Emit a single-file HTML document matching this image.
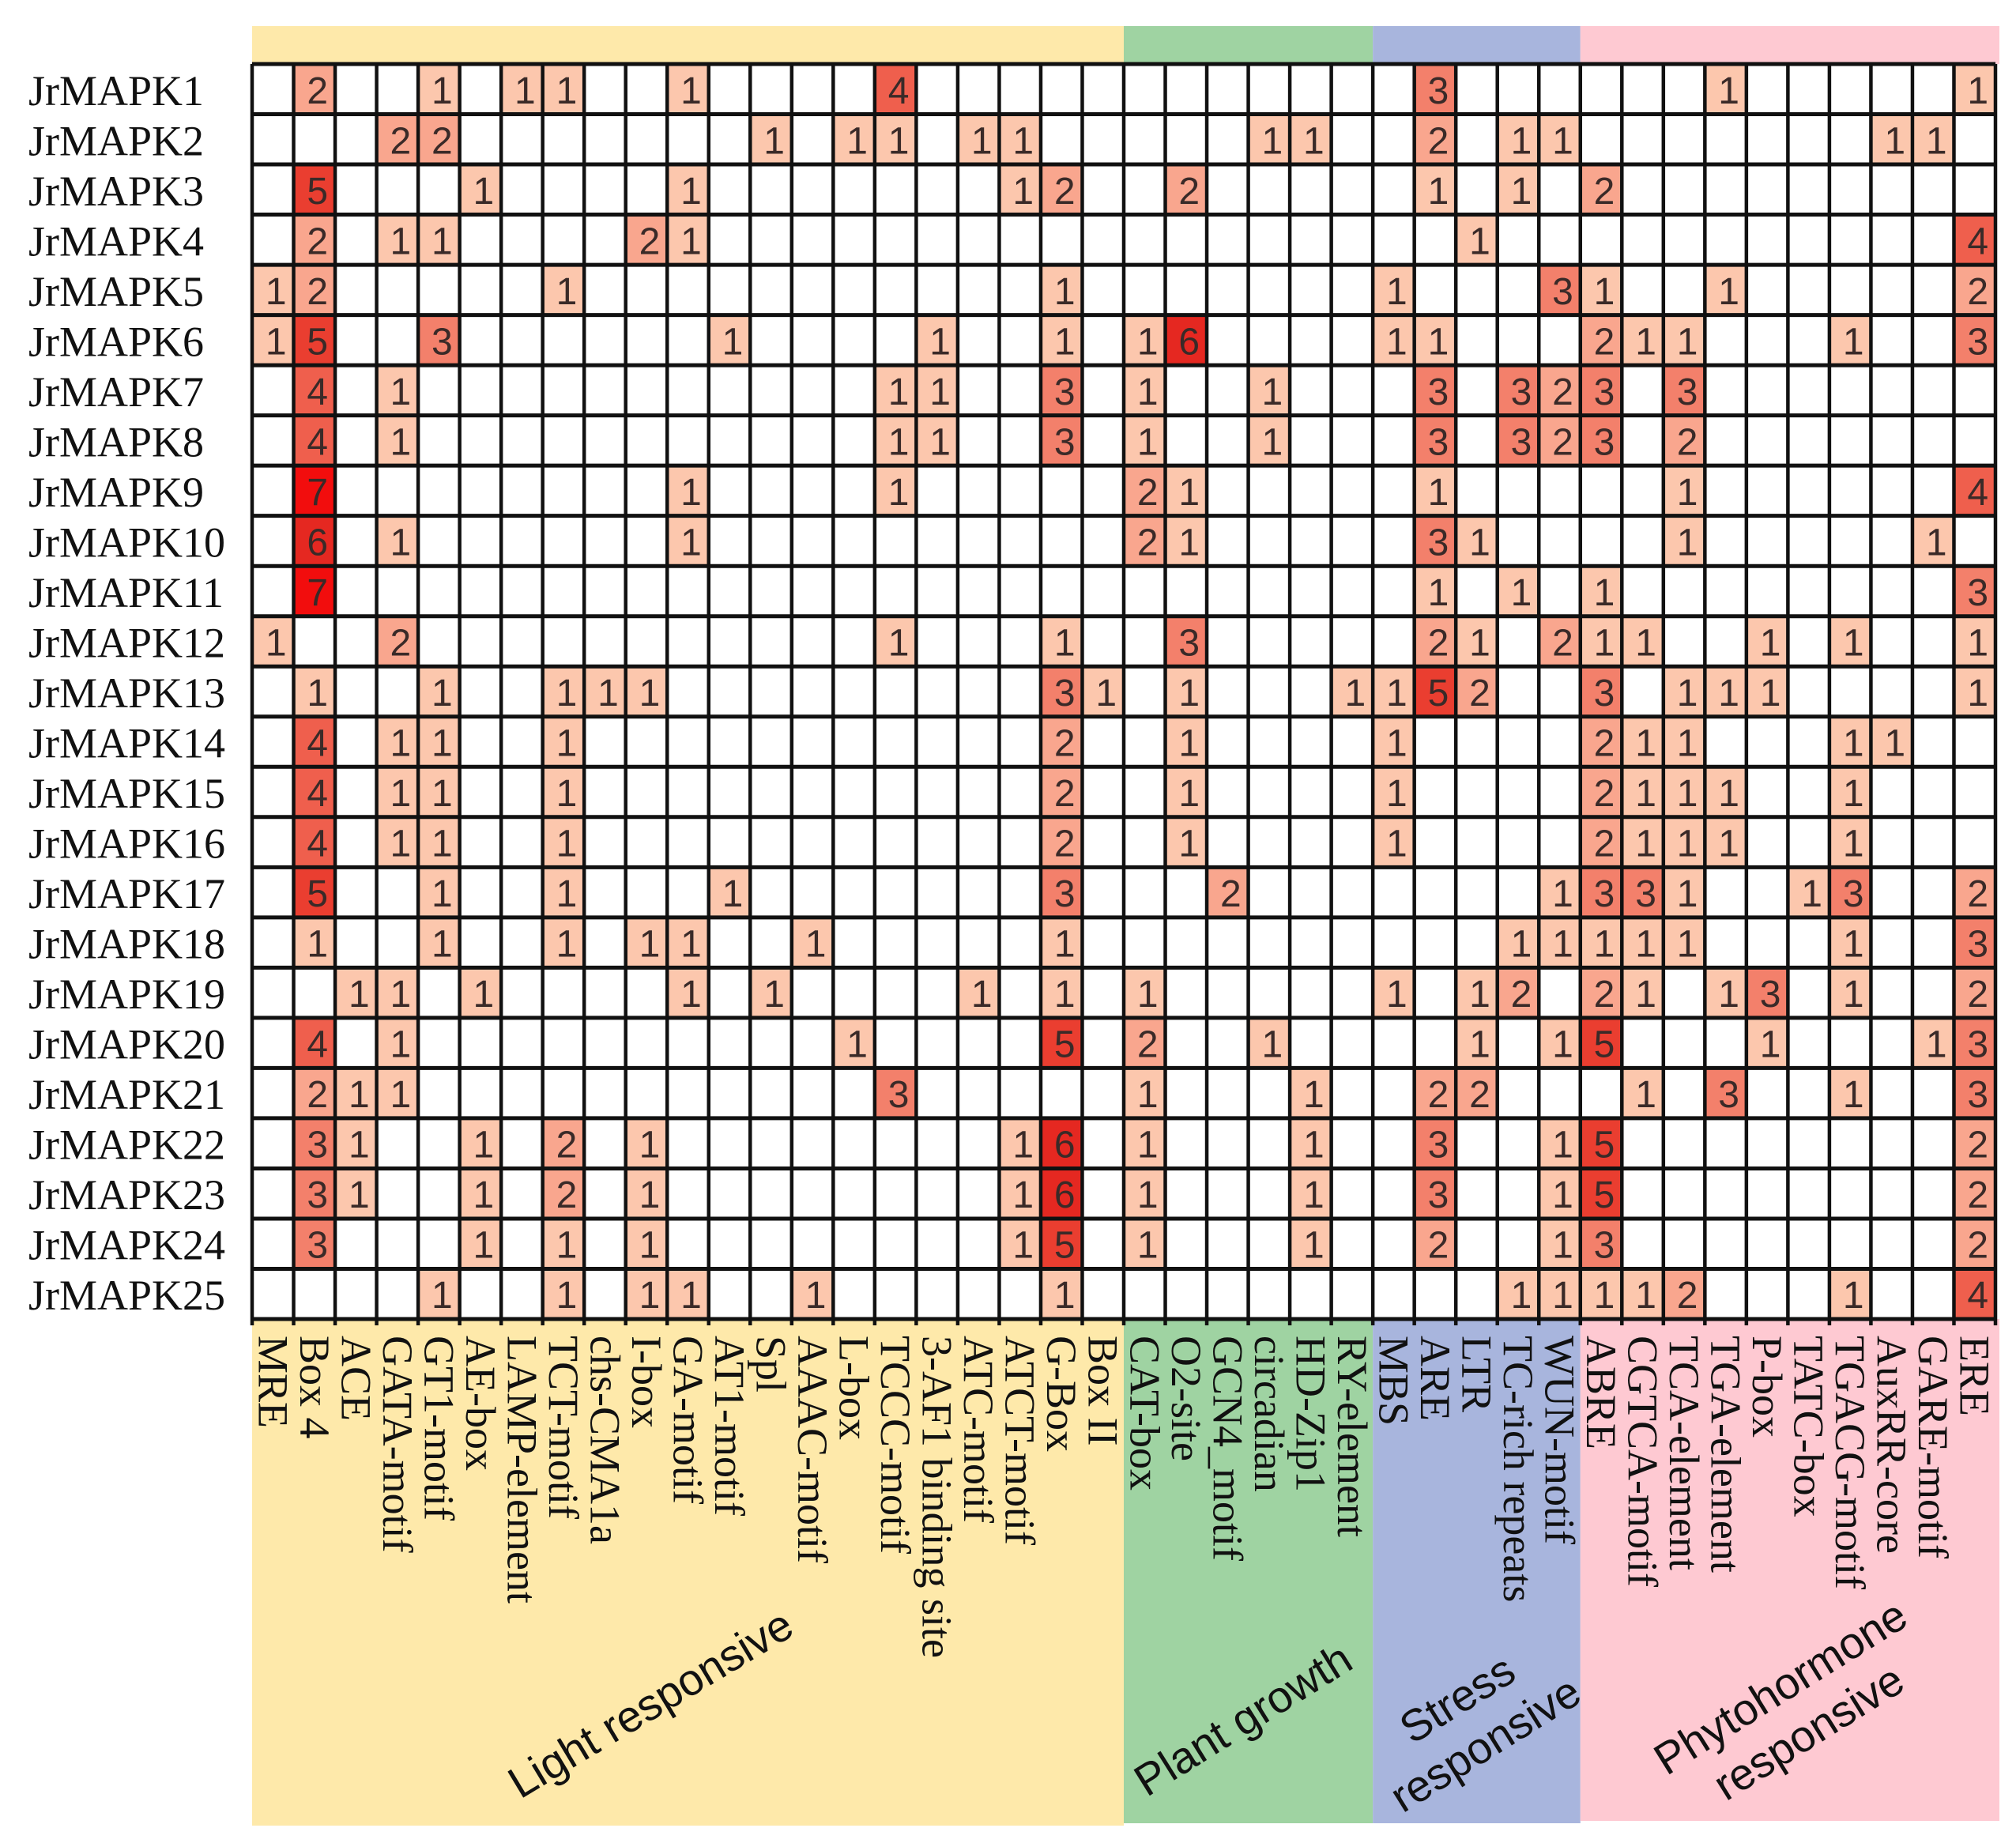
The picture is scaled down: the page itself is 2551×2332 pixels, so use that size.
<!DOCTYPE html>
<html><head><meta charset="utf-8">
<style>
html,body{margin:0;padding:0;background:#fff;width:2551px;height:2332px;overflow:hidden}
svg{display:block}
</style></head>
<body>
<svg id="chart" width="2551" height="2332" viewBox="0 0 2551 2332" xmlns="http://www.w3.org/2000/svg"></svg>
<script>
const genes = ["JrMAPK1","JrMAPK2","JrMAPK3","JrMAPK4","JrMAPK5","JrMAPK6","JrMAPK7","JrMAPK8","JrMAPK9","JrMAPK10","JrMAPK11","JrMAPK12","JrMAPK13","JrMAPK14","JrMAPK15","JrMAPK16","JrMAPK17","JrMAPK18","JrMAPK19","JrMAPK20","JrMAPK21","JrMAPK22","JrMAPK23","JrMAPK24","JrMAPK25"];
const elements = ["MRE","Box 4","ACE","GATA-motif","GT1-motif","AE-box","LAMP-element","TCT-motif","chs-CMA1a","I-box","GA-motif","AT1-motif","Spl","AAAC-motif","L-box","TCCC-motif","3-AF1 binding site","ATC-motif","ATCT-motif","G-Box","Box II","CAT-box","O2-site","GCN4_motif","circadian","HD-Zip1","RY-element","MBS","ARE","LTR","TC-rich repeats","WUN-motif","ABRE","CGTCA-motif","TCA-element","TGA-element","P-box","TATC-box","TGACG-motif","AuxRR-core","GARE-motif","ERE"];
const groupNames = ["Light responsive","Plant growth","Stress responsive","Phytohormone responsive"];
const groupSizes = [21,6,5,10];
// counts: each row lists [columnIndex, count]
const counts = [
[[1,2],[4,1],[6,1],[7,1],[10,1],[15,4],[28,3],[35,1],[41,1]],
[[3,2],[4,2],[12,1],[14,1],[15,1],[17,1],[18,1],[24,1],[25,1],[28,2],[30,1],[31,1],[39,1],[40,1]],
[[1,5],[5,1],[10,1],[18,1],[19,2],[22,2],[28,1],[30,1],[32,2]],
[[1,2],[3,1],[4,1],[9,2],[10,1],[29,1],[41,4]],
[[0,1],[1,2],[7,1],[19,1],[27,1],[31,3],[32,1],[35,1],[41,2]],
[[0,1],[1,5],[4,3],[11,1],[16,1],[19,1],[21,1],[22,6],[27,1],[28,1],[32,2],[33,1],[34,1],[38,1],[41,3]],
[[1,4],[3,1],[15,1],[16,1],[19,3],[21,1],[24,1],[28,3],[30,3],[31,2],[32,3],[34,3]],
[[1,4],[3,1],[15,1],[16,1],[19,3],[21,1],[24,1],[28,3],[30,3],[31,2],[32,3],[34,2]],
[[1,7],[10,1],[15,1],[21,2],[22,1],[28,1],[34,1],[41,4]],
[[1,6],[3,1],[10,1],[21,2],[22,1],[28,3],[29,1],[34,1],[40,1]],
[[1,7],[28,1],[30,1],[32,1],[41,3]],
[[0,1],[3,2],[15,1],[19,1],[22,3],[28,2],[29,1],[31,2],[32,1],[33,1],[36,1],[38,1],[41,1]],
[[1,1],[4,1],[7,1],[8,1],[9,1],[19,3],[20,1],[22,1],[26,1],[27,1],[28,5],[29,2],[32,3],[34,1],[35,1],[36,1],[41,1]],
[[1,4],[3,1],[4,1],[7,1],[19,2],[22,1],[27,1],[32,2],[33,1],[34,1],[38,1],[39,1]],
[[1,4],[3,1],[4,1],[7,1],[19,2],[22,1],[27,1],[32,2],[33,1],[34,1],[35,1],[38,1]],
[[1,4],[3,1],[4,1],[7,1],[19,2],[22,1],[27,1],[32,2],[33,1],[34,1],[35,1],[38,1]],
[[1,5],[4,1],[7,1],[11,1],[19,3],[23,2],[31,1],[32,3],[33,3],[34,1],[37,1],[38,3],[41,2]],
[[1,1],[4,1],[7,1],[9,1],[10,1],[13,1],[19,1],[30,1],[31,1],[32,1],[33,1],[34,1],[38,1],[41,3]],
[[2,1],[3,1],[5,1],[10,1],[12,1],[17,1],[19,1],[21,1],[27,1],[29,1],[30,2],[32,2],[33,1],[35,1],[36,3],[38,1],[41,2]],
[[1,4],[3,1],[14,1],[19,5],[21,2],[24,1],[29,1],[31,1],[32,5],[36,1],[40,1],[41,3]],
[[1,2],[2,1],[3,1],[15,3],[21,1],[25,1],[28,2],[29,2],[33,1],[35,3],[38,1],[41,3]],
[[1,3],[2,1],[5,1],[7,2],[9,1],[18,1],[19,6],[21,1],[25,1],[28,3],[31,1],[32,5],[41,2]],
[[1,3],[2,1],[5,1],[7,2],[9,1],[18,1],[19,6],[21,1],[25,1],[28,3],[31,1],[32,5],[41,2]],
[[1,3],[5,1],[7,1],[9,1],[18,1],[19,5],[21,1],[25,1],[28,2],[31,1],[32,3],[41,2]],
[[4,1],[7,1],[9,1],[10,1],[13,1],[19,1],[30,1],[31,1],[32,1],[33,1],[34,2],[38,1],[41,4]]
];

const NS = "http://www.w3.org/2000/svg";
const svg = document.getElementById('chart');
const X0 = 319, X1 = 2525, Y0 = 81, Y1 = 1669;
const colW = (X1 - X0) / elements.length;
const rowH = (Y1 - Y0) / genes.length;
const xOf = i => X0 + i * colW;
const yOf = r => Y0 + r * rowH;
const shades = ["#ffffff","#fcc7ad","#f9a68e","#f3806b","#ef5f4d","#ea3e30","#e52821","#f20d0d"];
const groupColors = ["#fee9aa","#9fd3a2","#a8b5dd","#fec9d2"];
function mk(tag, attrs){const e=document.createElementNS(NS,tag);for(const k in attrs)e.setAttribute(k,attrs[k]);svg.appendChild(e);return e;}

let start = 0;
const labelPos = [[833,2172,-31],[1583,2192,-32],[1866,2185,-32],[2275,2170,-32]];
groupSizes.forEach((n,g)=>{
  const xa = xOf(start), xb = g===3 ? X1+5 : xOf(start+n);
  const top = mk('rect',{x:xa,y:33,width:xb-xa,height:48,fill:groupColors[g]});
  
  
  const bot = mk('rect',{x:xa,y:Y1,width:xb-xa,height:[641,638,638,635][g],fill:groupColors[g]});
  
  
  const [lx,ly,ang] = labelPos[g];
  const t = mk('text',{x:lx,y:ly,'font-family':'Liberation Sans, sans-serif','font-size':56,'text-anchor':'middle',transform:`rotate(${ang} ${lx} ${ly})`,fill:'#111'});
  
  
  const words = groupNames[g];
  if (g>=2){
    const parts = words.split(' ');
    parts.forEach((p,i)=>{const ts=document.createElementNS(NS,'tspan');ts.setAttribute('x',lx);ts.setAttribute('dy',i===0?'-0.4em':'1.2em');ts.textContent=p;t.appendChild(ts);});
  } else t.textContent = words;
  start += n;
});

const bg = mk('rect',{x:X0,y:Y0,width:X1-X0,height:Y1-Y0,fill:'#fff'});



counts.forEach((row,r)=>{
  row.forEach(([c,v])=>{
    const cell = mk('rect',{x:xOf(c),y:yOf(r),width:colW,height:rowH,fill:shades[Math.min(v,7)]});
    
    
    const t = mk('text',{x:xOf(c)+colW/2+4,y:yOf(r)+rowH/2+18,'font-family':'Liberation Sans, sans-serif','font-size':48,'text-anchor':'middle',fill:'#3a2a28'});
    t.textContent = v;
    
    
  });
});

for(let i=0;i<=elements.length;i++){
  const l = mk('line',{x1:xOf(i),x2:xOf(i),y1:Y0,y2:Y1+8,stroke:'#111','stroke-width':4.5});
  
  
}
for(let r=0;r<=genes.length;r++){
  const l = mk('line',{x1:X0,x2:X1,y1:yOf(r),y2:yOf(r),stroke:'#111','stroke-width':5});
  
  
}

genes.forEach((g,r)=>{
  const t = mk('text',{x:36,y:yOf(r)+rowH/2+20,'font-family':'Liberation Serif, serif','font-size':54,fill:'#111'});
  t.textContent = g;
  
  
});

elements.forEach((e,i)=>{
  const cx = xOf(i)+colW/2-18, cy = 1690;
  const t = mk('text',{x:cx,y:cy,'font-family':'Liberation Serif, serif','font-size':54,fill:'#111',transform:`rotate(90 ${cx} ${cy})`});
  t.textContent = e;
  
  
});
</script>
</body></html>
